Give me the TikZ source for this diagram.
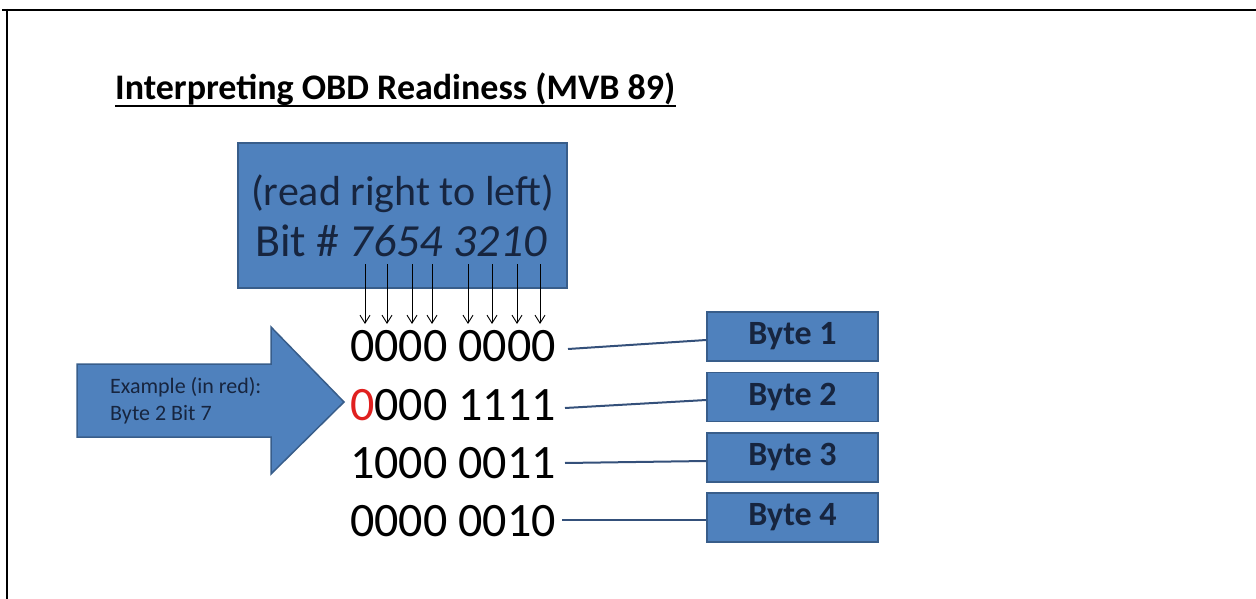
\documentclass[tikz,border=0pt]{standalone}
\usepackage{fontspec}
\setmainfont{Carlito}
\usetikzlibrary{arrows.meta,calc}
\definecolor{boxfill}{HTML}{4F81BD}
\definecolor{boxline}{HTML}{385D8A}
\definecolor{navytext}{HTML}{17253F}
\definecolor{linkcol}{HTML}{34507A}
\definecolor{bitred}{HTML}{E0201F}
\tikzset{
  bluebox/.style={draw=boxline, line width=1.5pt, fill=boxfill},
  bytebox/.style={bluebox, minimum width=171pt, minimum height=49pt, inner sep=0pt,
    font=\fontsize{34}{40}\selectfont\bfseries, text=navytext},
  bitrow/.style={anchor=base west, inner sep=0pt, font=\fontsize{48}{56}\selectfont},
  bitarrow/.style={-{Straight Barb[length=8pt,width=10pt]}, line width=0.9pt},
  link/.style={draw=linkcol, line width=2pt},
  frameline/.style={line width=2.5pt},
  extext/.style={anchor=base west, inner sep=0pt, font=\fontsize{22}{26}\selectfont, text=navytext}
}
\begin{document}
\begin{tikzpicture}[x=1pt,y=-1pt]
\useasboundingbox (0,0) rectangle (1256,599);
% frame
\draw[frameline] (2,10) -- (1256,10);
\draw[frameline] (7,9) -- (7,599);
% title
\node[anchor=base west, inner sep=0pt, font=\fontsize{36}{40}\selectfont\bfseries]
  (title) at (115,100) {Interpreting OBD Readiness (MVB 89)};
\draw[line width=2pt] ($(title.base west)+(0,6)$) -- ($(title.base east)+(0,6)$);
% top box
\draw[bluebox] (238,143) rectangle (567,288);
\node[anchor=base west, inner sep=0pt, font=\fontsize{42}{48}\selectfont, text=navytext]
  (readtxt) at (251,205) {(read right to left)};
\node[anchor=base west, inner sep=0pt, font=\fontsize{46}{52}\selectfont, text=navytext]
  (bittxt) at (255,256) {Bit \# \textit{7654 3210}};
% bit arrows
\foreach \x in {365,387,412,432,468,492,517,540}{
  \draw[bitarrow] (\x,264) -- (\x,324);
}
% rows
\node[bitrow] (r1) at (350,361) {0000 0000};
\node[bitrow] (r2) at (350,420) {\textcolor{bitred}{0}000 1111};
\node[bitrow] (r3) at (350,478) {1000 0011};
\node[bitrow] (r4) at (350,536) {0000 0010};
% byte boxes
\node[bytebox] (b1) at (792.5,336.5) {Byte 1};
\node[bytebox] (b2) at (792.5,397) {Byte 2};
\node[bytebox] (b3) at (792.5,457.5) {Byte 3};
\node[bytebox] (b4) at (792.5,517.5) {Byte 4};
% links
\draw[link] (568,349) -- ([yshift=-3.5pt]b1.west);
\draw[link] (565,408) -- ([yshift=-3pt]b2.west);
\draw[link] (565,463) -- ([yshift=-3.5pt]b3.west);
\draw[link] (562,520) -- ([yshift=-2.5pt]b4.west);
% block arrow
\draw[bluebox] (77,364) -- (271,364) -- (271,327) -- (344,402) -- (271,474)
  -- (271,437) -- (77,437) -- cycle;
\node[extext] (ex1) at (110,393) {Example (in red):};
\node[extext] (ex2) at (110,420) {Byte 2 Bit 7};
\end{tikzpicture}
\end{document}
